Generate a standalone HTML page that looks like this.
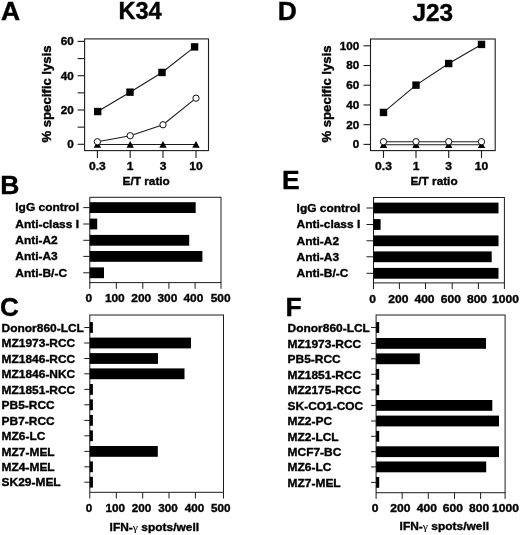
<!DOCTYPE html>
<html><head><meta charset="utf-8"><title>Figure</title>
<style>
html,body{margin:0;padding:0;background:#fff;}
body{width:520px;height:535px;overflow:hidden;font-family:"Liberation Sans",sans-serif;}
svg{display:block;filter:blur(0.35px);}
svg text{font-family:"Liberation Sans",sans-serif;font-weight:bold;fill:#000;stroke:#000;stroke-width:0.38px;}
</style></head>
<body>
<svg width="520" height="535" viewBox="0 0 520 535">
<rect x="0" y="0" width="520" height="535" fill="#fff"/>
<text transform="translate(1.0,20) scale(1.05,1)" font-size="25.2">A</text>
<text transform="translate(118.5,19) scale(0.995,1)" font-size="23.7">K34</text>
<text transform="translate(0.2,193.8) scale(1.05,1)" font-size="25.2">B</text>
<text transform="translate(0.0,316.0) scale(1.0,1)" font-size="26">C</text>
<text transform="translate(277.8,20) scale(1.05,1)" font-size="25.2">D</text>
<text transform="translate(412.4,21.2) scale(1.02,1)" font-size="23.9">J23</text>
<text transform="translate(282.0,189.3) scale(1.05,1)" font-size="25.2">E</text>
<text transform="translate(285.4,316.4) scale(1.05,1)" font-size="25.2">F</text>
<rect x="84.6" y="38.9" width="123.9" height="111.69999999999999" fill="none" stroke="#1c1c1c" stroke-width="1.1"/>
<line x1="77.6" y1="144.3" x2="84.6" y2="144.3" stroke="#1c1c1c" stroke-width="1.1"/>
<text transform="translate(73.8,148.20000000000002) scale(1,0.97)" font-size="11.7" text-anchor="end" >0</text>
<line x1="77.6" y1="127.15" x2="84.6" y2="127.15" stroke="#1c1c1c" stroke-width="1.1"/>
<line x1="77.6" y1="110.0" x2="84.6" y2="110.0" stroke="#1c1c1c" stroke-width="1.1"/>
<text transform="translate(73.8,113.9) scale(1,0.97)" font-size="11.7" text-anchor="end" >20</text>
<line x1="77.6" y1="92.85000000000001" x2="84.6" y2="92.85000000000001" stroke="#1c1c1c" stroke-width="1.1"/>
<line x1="77.6" y1="75.7" x2="84.6" y2="75.7" stroke="#1c1c1c" stroke-width="1.1"/>
<text transform="translate(73.8,79.60000000000001) scale(1,0.97)" font-size="11.7" text-anchor="end" >40</text>
<line x1="77.6" y1="58.55000000000001" x2="84.6" y2="58.55000000000001" stroke="#1c1c1c" stroke-width="1.1"/>
<line x1="77.6" y1="41.400000000000006" x2="84.6" y2="41.400000000000006" stroke="#1c1c1c" stroke-width="1.1"/>
<text transform="translate(73.8,45.300000000000004) scale(1,0.97)" font-size="11.7" text-anchor="end" >60</text>
<line x1="97.4" y1="150.6" x2="97.4" y2="157.9" stroke="#1c1c1c" stroke-width="1.1"/>
<text transform="translate(97.4,170.4) scale(1,0.92)" font-size="12.1" text-anchor="middle" >0.3</text>
<line x1="130.2" y1="150.6" x2="130.2" y2="157.9" stroke="#1c1c1c" stroke-width="1.1"/>
<text transform="translate(130.2,170.4) scale(1,0.92)" font-size="12.1" text-anchor="middle" >1</text>
<line x1="163" y1="150.6" x2="163" y2="157.9" stroke="#1c1c1c" stroke-width="1.1"/>
<text transform="translate(163,170.4) scale(1,0.92)" font-size="12.1" text-anchor="middle" >3</text>
<line x1="196" y1="150.6" x2="196" y2="157.9" stroke="#1c1c1c" stroke-width="1.1"/>
<text transform="translate(196,170.4) scale(1,0.92)" font-size="12.1" text-anchor="middle" >10</text>
<text transform="translate(146.2,184.9) scale(1,0.92)" font-size="11.8" text-anchor="middle" >E/T ratio</text>
<text transform="translate(50.6,94.0) rotate(-90)" font-size="13.4" text-anchor="middle" textLength="97" lengthAdjust="spacingAndGlyphs">% specific lysis</text>
<polyline points="97.4,144.47150000000002 130.2,144.47150000000002 163,144.47150000000002 196,144.47150000000002" fill="none" stroke="#1c1c1c" stroke-width="1.1"/>
<polygon points="93.7,147.6715 101.10000000000001,147.6715 97.4,140.97150000000002" fill="#000"/>
<polygon points="126.49999999999999,147.6715 133.89999999999998,147.6715 130.2,140.97150000000002" fill="#000"/>
<polygon points="159.3,147.6715 166.7,147.6715 163,140.97150000000002" fill="#000"/>
<polygon points="192.3,147.6715 199.7,147.6715 196,140.97150000000002" fill="#000"/>
<polyline points="97.4,141.72750000000002 130.2,135.72500000000002 163,124.74900000000001 196,98.16650000000001" fill="none" stroke="#1c1c1c" stroke-width="1.1"/>
<circle cx="97.4" cy="141.72750000000002" r="3.15" fill="#fff" stroke="#111" stroke-width="1.0"/>
<circle cx="130.2" cy="135.72500000000002" r="3.15" fill="#fff" stroke="#111" stroke-width="1.0"/>
<circle cx="163" cy="124.74900000000001" r="3.15" fill="#fff" stroke="#111" stroke-width="1.0"/>
<circle cx="196" cy="98.16650000000001" r="3.15" fill="#fff" stroke="#111" stroke-width="1.0"/>
<polyline points="97.7,111.54350000000001 130,92.16400000000002 162,72.4415 194.6,46.888000000000005" fill="none" stroke="#1c1c1c" stroke-width="1.1"/>
<rect x="94.0" y="107.8435" width="7.4" height="7.4" fill="#000"/>
<rect x="126.3" y="88.46400000000001" width="7.4" height="7.4" fill="#000"/>
<rect x="158.3" y="68.7415" width="7.4" height="7.4" fill="#000"/>
<rect x="190.9" y="43.188" width="7.4" height="7.4" fill="#000"/>
<rect x="370.5" y="39.0" width="124.69999999999999" height="111.6" fill="none" stroke="#1c1c1c" stroke-width="1.1"/>
<line x1="363.5" y1="144.4" x2="370.5" y2="144.4" stroke="#1c1c1c" stroke-width="1.1"/>
<text transform="translate(359.2,148.3) scale(1,0.97)" font-size="11.7" text-anchor="end" >0</text>
<line x1="363.5" y1="124.68" x2="370.5" y2="124.68" stroke="#1c1c1c" stroke-width="1.1"/>
<text transform="translate(359.2,128.58) scale(1,0.97)" font-size="11.7" text-anchor="end" >20</text>
<line x1="363.5" y1="104.96000000000001" x2="370.5" y2="104.96000000000001" stroke="#1c1c1c" stroke-width="1.1"/>
<text transform="translate(359.2,108.86000000000001) scale(1,0.97)" font-size="11.7" text-anchor="end" >40</text>
<line x1="363.5" y1="85.24000000000001" x2="370.5" y2="85.24000000000001" stroke="#1c1c1c" stroke-width="1.1"/>
<text transform="translate(359.2,89.14000000000001) scale(1,0.97)" font-size="11.7" text-anchor="end" >60</text>
<line x1="363.5" y1="65.52000000000001" x2="370.5" y2="65.52000000000001" stroke="#1c1c1c" stroke-width="1.1"/>
<text transform="translate(359.2,69.42000000000002) scale(1,0.97)" font-size="11.7" text-anchor="end" >80</text>
<line x1="363.5" y1="45.80000000000001" x2="370.5" y2="45.80000000000001" stroke="#1c1c1c" stroke-width="1.1"/>
<text transform="translate(359.2,49.70000000000001) scale(1,0.97)" font-size="11.7" text-anchor="end" >100</text>
<line x1="383.5" y1="150.6" x2="383.5" y2="157.9" stroke="#1c1c1c" stroke-width="1.1"/>
<text transform="translate(383.5,170.4) scale(1,0.92)" font-size="12.1" text-anchor="middle" >0.3</text>
<line x1="416" y1="150.6" x2="416" y2="157.9" stroke="#1c1c1c" stroke-width="1.1"/>
<text transform="translate(416,170.4) scale(1,0.92)" font-size="12.1" text-anchor="middle" >1</text>
<line x1="448.7" y1="150.6" x2="448.7" y2="157.9" stroke="#1c1c1c" stroke-width="1.1"/>
<text transform="translate(448.7,170.4) scale(1,0.92)" font-size="12.1" text-anchor="middle" >3</text>
<line x1="481.5" y1="150.6" x2="481.5" y2="157.9" stroke="#1c1c1c" stroke-width="1.1"/>
<text transform="translate(481.5,170.4) scale(1,0.92)" font-size="12.1" text-anchor="middle" >10</text>
<text transform="translate(434,184.9) scale(1,0.92)" font-size="11.8" text-anchor="middle" >E/T ratio</text>
<text transform="translate(331.2,94.0) rotate(-90)" font-size="13.4" text-anchor="middle" textLength="97" lengthAdjust="spacingAndGlyphs">% specific lysis</text>
<polyline points="383.5,144.7944 416,144.7944 448.7,144.7944 481.5,144.7944" fill="none" stroke="#1c1c1c" stroke-width="1.1"/>
<polygon points="379.8,147.99439999999998 387.2,147.99439999999998 383.5,141.2944" fill="#000"/>
<polygon points="412.3,147.99439999999998 419.7,147.99439999999998 416,141.2944" fill="#000"/>
<polygon points="445.0,147.99439999999998 452.4,147.99439999999998 448.7,141.2944" fill="#000"/>
<polygon points="477.8,147.99439999999998 485.2,147.99439999999998 481.5,141.2944" fill="#000"/>
<polyline points="383.5,141.6885 416,141.6885 448.7,141.6885 481.5,141.6885" fill="none" stroke="#1c1c1c" stroke-width="1.1"/>
<circle cx="383.5" cy="141.6885" r="3.15" fill="#fff" stroke="#111" stroke-width="1.0"/>
<circle cx="416" cy="141.6885" r="3.15" fill="#fff" stroke="#111" stroke-width="1.0"/>
<circle cx="448.7" cy="141.6885" r="3.15" fill="#fff" stroke="#111" stroke-width="1.0"/>
<circle cx="481.5" cy="141.6885" r="3.15" fill="#fff" stroke="#111" stroke-width="1.0"/>
<polyline points="383.5,112.45360000000001 416,85.1414 448.7,63.548 481.5,44.4196" fill="none" stroke="#1c1c1c" stroke-width="1.1"/>
<rect x="379.8" y="108.7536" width="7.4" height="7.4" fill="#000"/>
<rect x="412.3" y="81.4414" width="7.4" height="7.4" fill="#000"/>
<rect x="445.0" y="59.848" width="7.4" height="7.4" fill="#000"/>
<rect x="477.8" y="40.7196" width="7.4" height="7.4" fill="#000"/>
<rect x="89.8" y="197.3" width="131.2" height="85.30000000000001" fill="none" stroke="#1c1c1c" stroke-width="1.0"/>
<line x1="83.3" y1="207.6" x2="89.8" y2="207.6" stroke="#1c1c1c" stroke-width="1.0"/>
<rect x="89.8" y="202.2" width="105.89999999999999" height="10.8" fill="#000"/>
<text transform="translate(15.3,211.29999999999998) scale(1,0.92)" font-size="11.95" text-anchor="start" >IgG control</text>
<line x1="83.3" y1="224" x2="89.8" y2="224" stroke="#1c1c1c" stroke-width="1.0"/>
<rect x="89.8" y="218.6" width="7.400000000000006" height="10.8" fill="#000"/>
<text transform="translate(15.3,227.7) scale(1,0.92)" font-size="11.95" text-anchor="start" >Anti-class I</text>
<line x1="83.3" y1="240.3" x2="89.8" y2="240.3" stroke="#1c1c1c" stroke-width="1.0"/>
<rect x="89.8" y="234.9" width="99.39999999999999" height="10.8" fill="#000"/>
<text transform="translate(15.3,244.0) scale(1,0.92)" font-size="11.95" text-anchor="start" >Anti-A2</text>
<line x1="83.3" y1="256.4" x2="89.8" y2="256.4" stroke="#1c1c1c" stroke-width="1.0"/>
<rect x="89.8" y="250.99999999999997" width="112.60000000000001" height="10.8" fill="#000"/>
<text transform="translate(15.3,260.09999999999997) scale(1,0.92)" font-size="11.95" text-anchor="start" >Anti-A3</text>
<line x1="83.3" y1="272.8" x2="89.8" y2="272.8" stroke="#1c1c1c" stroke-width="1.0"/>
<rect x="89.8" y="267.40000000000003" width="14.200000000000003" height="10.8" fill="#000"/>
<text transform="translate(15.3,276.5) scale(1,0.92)" font-size="11.95" text-anchor="start" >Anti-B/-C</text>
<line x1="89.8" y1="282.6" x2="89.8" y2="288.8" stroke="#1c1c1c" stroke-width="1.0"/>
<line x1="116.3" y1="282.6" x2="116.3" y2="288.8" stroke="#1c1c1c" stroke-width="1.0"/>
<line x1="142.8" y1="282.6" x2="142.8" y2="288.8" stroke="#1c1c1c" stroke-width="1.0"/>
<line x1="168.9" y1="282.6" x2="168.9" y2="288.8" stroke="#1c1c1c" stroke-width="1.0"/>
<line x1="195.1" y1="282.6" x2="195.1" y2="288.8" stroke="#1c1c1c" stroke-width="1.0"/>
<line x1="221.0" y1="282.6" x2="221.0" y2="288.8" stroke="#1c1c1c" stroke-width="1.0"/>
<text transform="translate(88.9,302.3) scale(1,0.92)" font-size="11.9" text-anchor="middle" >0</text>
<text transform="translate(114.8,302.3) scale(1,0.92)" font-size="11.9" text-anchor="middle" >100</text>
<text transform="translate(141.2,302.3) scale(1,0.92)" font-size="11.9" text-anchor="middle" >200</text>
<text transform="translate(167.4,302.3) scale(1,0.92)" font-size="11.9" text-anchor="middle" >300</text>
<text transform="translate(193.4,302.3) scale(1,0.92)" font-size="11.9" text-anchor="middle" >400</text>
<text transform="translate(220.6,302.3) scale(1,0.92)" font-size="11.9" text-anchor="middle" >500</text>
<rect x="89.8" y="315" width="133.7" height="177.3" fill="none" stroke="#1c1c1c" stroke-width="1.0"/>
<line x1="84.3" y1="327.5" x2="89.8" y2="327.5" stroke="#1c1c1c" stroke-width="1.0"/>
<rect x="89.8" y="322.1" width="3.1000000000000085" height="10.8" fill="#000"/>
<text transform="translate(1.6,331.6) scale(1,0.92)" font-size="11.95" text-anchor="start" >Donor860-LCL</text>
<line x1="84.3" y1="343" x2="89.8" y2="343" stroke="#1c1c1c" stroke-width="1.0"/>
<rect x="89.8" y="337.6" width="101.2" height="10.8" fill="#000"/>
<text transform="translate(1.6,347.1) scale(1,0.92)" font-size="11.95" text-anchor="start" >MZ1973-RCC</text>
<line x1="84.3" y1="358.5" x2="89.8" y2="358.5" stroke="#1c1c1c" stroke-width="1.0"/>
<rect x="89.8" y="353.1" width="68.2" height="10.8" fill="#000"/>
<text transform="translate(1.6,362.6) scale(1,0.92)" font-size="11.95" text-anchor="start" >MZ1846-RCC</text>
<line x1="84.3" y1="373.8" x2="89.8" y2="373.8" stroke="#1c1c1c" stroke-width="1.0"/>
<rect x="89.8" y="368.40000000000003" width="94.7" height="10.8" fill="#000"/>
<text transform="translate(1.6,377.90000000000003) scale(1,0.92)" font-size="11.95" text-anchor="start" >MZ1846-NKC</text>
<line x1="84.3" y1="389.4" x2="89.8" y2="389.4" stroke="#1c1c1c" stroke-width="1.0"/>
<rect x="89.8" y="384.0" width="3.1000000000000085" height="10.8" fill="#000"/>
<text transform="translate(1.6,393.5) scale(1,0.92)" font-size="11.95" text-anchor="start" >MZ1851-RCC</text>
<line x1="84.3" y1="404.8" x2="89.8" y2="404.8" stroke="#1c1c1c" stroke-width="1.0"/>
<rect x="89.8" y="399.40000000000003" width="3.1000000000000085" height="10.8" fill="#000"/>
<text transform="translate(1.6,408.90000000000003) scale(1,0.92)" font-size="11.95" text-anchor="start" >PB5-RCC</text>
<line x1="84.3" y1="420.4" x2="89.8" y2="420.4" stroke="#1c1c1c" stroke-width="1.0"/>
<rect x="89.8" y="415.0" width="3.1000000000000085" height="10.8" fill="#000"/>
<text transform="translate(1.6,424.5) scale(1,0.92)" font-size="11.95" text-anchor="start" >PB7-RCC</text>
<line x1="84.3" y1="435.8" x2="89.8" y2="435.8" stroke="#1c1c1c" stroke-width="1.0"/>
<rect x="89.8" y="430.40000000000003" width="3.1000000000000085" height="10.8" fill="#000"/>
<text transform="translate(1.6,439.90000000000003) scale(1,0.92)" font-size="11.95" text-anchor="start" >MZ6-LC</text>
<line x1="84.3" y1="451.4" x2="89.8" y2="451.4" stroke="#1c1c1c" stroke-width="1.0"/>
<rect x="89.8" y="446.0" width="68.00000000000001" height="10.8" fill="#000"/>
<text transform="translate(1.6,455.5) scale(1,0.92)" font-size="11.95" text-anchor="start" >MZ7-MEL</text>
<line x1="84.3" y1="466.8" x2="89.8" y2="466.8" stroke="#1c1c1c" stroke-width="1.0"/>
<rect x="89.8" y="461.40000000000003" width="3.1000000000000085" height="10.8" fill="#000"/>
<text transform="translate(1.6,470.90000000000003) scale(1,0.92)" font-size="11.95" text-anchor="start" >MZ4-MEL</text>
<line x1="84.3" y1="482.2" x2="89.8" y2="482.2" stroke="#1c1c1c" stroke-width="1.0"/>
<rect x="89.8" y="476.8" width="3.1000000000000085" height="10.8" fill="#000"/>
<text transform="translate(1.6,486.3) scale(1,0.92)" font-size="11.95" text-anchor="start" >SK29-MEL</text>
<line x1="89.8" y1="492.3" x2="89.8" y2="498.5" stroke="#1c1c1c" stroke-width="1.0"/>
<line x1="116.3" y1="492.3" x2="116.3" y2="498.5" stroke="#1c1c1c" stroke-width="1.0"/>
<line x1="142.7" y1="492.3" x2="142.7" y2="498.5" stroke="#1c1c1c" stroke-width="1.0"/>
<line x1="169" y1="492.3" x2="169" y2="498.5" stroke="#1c1c1c" stroke-width="1.0"/>
<line x1="195.4" y1="492.3" x2="195.4" y2="498.5" stroke="#1c1c1c" stroke-width="1.0"/>
<line x1="223.5" y1="492.3" x2="223.5" y2="498.5" stroke="#1c1c1c" stroke-width="1.0"/>
<text transform="translate(89.1,511.5) scale(1,0.92)" font-size="11.7" text-anchor="middle" >0</text>
<text transform="translate(115.2,511.5) scale(1,0.92)" font-size="11.7" text-anchor="middle" >100</text>
<text transform="translate(141.4,511.5) scale(1,0.92)" font-size="11.7" text-anchor="middle" >200</text>
<text transform="translate(168.0,511.5) scale(1,0.92)" font-size="11.7" text-anchor="middle" >300</text>
<text transform="translate(194.6,511.5) scale(1,0.92)" font-size="11.7" text-anchor="middle" >400</text>
<text transform="translate(220.7,511.5) scale(1,0.92)" font-size="11.7" text-anchor="middle" >500</text>
<text transform="translate(154.3,530.9) scale(1,0.89)" font-size="11.95" text-anchor="middle">IFN-<tspan font-weight="normal" font-family="Liberation Serif, serif" font-style="normal" font-size="11.8" stroke-width="0.1">γ</tspan> spots/well</text>
<rect x="373.5" y="197.5" width="130.89999999999998" height="85.39999999999998" fill="none" stroke="#1c1c1c" stroke-width="1.0"/>
<line x1="366.5" y1="208" x2="373.5" y2="208" stroke="#1c1c1c" stroke-width="1.0"/>
<rect x="373.5" y="202.6" width="125.0" height="10.8" fill="#000"/>
<text transform="translate(296.6,211.7) scale(1,0.92)" font-size="11.95" text-anchor="start" >IgG control</text>
<line x1="366.5" y1="224.5" x2="373.5" y2="224.5" stroke="#1c1c1c" stroke-width="1.0"/>
<rect x="373.5" y="219.1" width="7.100000000000023" height="10.8" fill="#000"/>
<text transform="translate(296.6,228.2) scale(1,0.92)" font-size="11.95" text-anchor="start" >Anti-class I</text>
<line x1="366.5" y1="240.8" x2="373.5" y2="240.8" stroke="#1c1c1c" stroke-width="1.0"/>
<rect x="373.5" y="235.4" width="125.0" height="10.8" fill="#000"/>
<text transform="translate(296.6,244.5) scale(1,0.92)" font-size="11.95" text-anchor="start" >Anti-A2</text>
<line x1="366.5" y1="256.8" x2="373.5" y2="256.8" stroke="#1c1c1c" stroke-width="1.0"/>
<rect x="373.5" y="251.4" width="118.19999999999999" height="10.8" fill="#000"/>
<text transform="translate(296.6,260.5) scale(1,0.92)" font-size="11.95" text-anchor="start" >Anti-A3</text>
<line x1="366.5" y1="273.3" x2="373.5" y2="273.3" stroke="#1c1c1c" stroke-width="1.0"/>
<rect x="373.5" y="267.90000000000003" width="125.0" height="10.8" fill="#000"/>
<text transform="translate(296.6,277.0) scale(1,0.92)" font-size="11.95" text-anchor="start" >Anti-B/-C</text>
<line x1="373.5" y1="282.9" x2="373.5" y2="289.09999999999997" stroke="#1c1c1c" stroke-width="1.0"/>
<line x1="399.4" y1="282.9" x2="399.4" y2="289.09999999999997" stroke="#1c1c1c" stroke-width="1.0"/>
<line x1="425.5" y1="282.9" x2="425.5" y2="289.09999999999997" stroke="#1c1c1c" stroke-width="1.0"/>
<line x1="452.2" y1="282.9" x2="452.2" y2="289.09999999999997" stroke="#1c1c1c" stroke-width="1.0"/>
<line x1="478.4" y1="282.9" x2="478.4" y2="289.09999999999997" stroke="#1c1c1c" stroke-width="1.0"/>
<line x1="504.4" y1="282.9" x2="504.4" y2="289.09999999999997" stroke="#1c1c1c" stroke-width="1.0"/>
<text transform="translate(372.6,302.5) scale(1,0.92)" font-size="12.1" text-anchor="middle" >0</text>
<text transform="translate(398.3,302.5) scale(1,0.92)" font-size="12.1" text-anchor="middle" >200</text>
<text transform="translate(424.5,302.5) scale(1,0.92)" font-size="12.1" text-anchor="middle" >400</text>
<text transform="translate(450.8,302.5) scale(1,0.92)" font-size="12.1" text-anchor="middle" >600</text>
<text transform="translate(477,302.5) scale(1,0.92)" font-size="12.1" text-anchor="middle" >800</text>
<text transform="translate(505.4,302.5) scale(1,0.92)" font-size="12.1" text-anchor="middle" >1000</text>
<rect x="376.1" y="315" width="129.0" height="177.7" fill="none" stroke="#1c1c1c" stroke-width="1.0"/>
<line x1="371.1" y1="327.5" x2="376.1" y2="327.5" stroke="#1c1c1c" stroke-width="1.0"/>
<rect x="376.1" y="322.1" width="3.099999999999966" height="10.8" fill="#000"/>
<text transform="translate(287.6,331.7) scale(1,0.92)" font-size="11.95" text-anchor="start" >Donor860-LCL</text>
<line x1="371.1" y1="343.4" x2="376.1" y2="343.4" stroke="#1c1c1c" stroke-width="1.0"/>
<rect x="376.1" y="338.0" width="109.89999999999998" height="10.8" fill="#000"/>
<text transform="translate(287.6,347.59999999999997) scale(1,0.92)" font-size="11.95" text-anchor="start" >MZ1973-RCC</text>
<line x1="371.1" y1="358.8" x2="376.1" y2="358.8" stroke="#1c1c1c" stroke-width="1.0"/>
<rect x="376.1" y="353.40000000000003" width="43.69999999999999" height="10.8" fill="#000"/>
<text transform="translate(287.6,363.0) scale(1,0.92)" font-size="11.95" text-anchor="start" >PB5-RCC</text>
<line x1="371.1" y1="374.3" x2="376.1" y2="374.3" stroke="#1c1c1c" stroke-width="1.0"/>
<rect x="376.1" y="368.90000000000003" width="3.099999999999966" height="10.8" fill="#000"/>
<text transform="translate(287.6,378.5) scale(1,0.92)" font-size="11.95" text-anchor="start" >MZ1851-RCC</text>
<line x1="371.1" y1="389.9" x2="376.1" y2="389.9" stroke="#1c1c1c" stroke-width="1.0"/>
<rect x="376.1" y="384.5" width="3.099999999999966" height="10.8" fill="#000"/>
<text transform="translate(287.6,394.09999999999997) scale(1,0.92)" font-size="11.95" text-anchor="start" >MZ2175-RCC</text>
<line x1="371.1" y1="405.4" x2="376.1" y2="405.4" stroke="#1c1c1c" stroke-width="1.0"/>
<rect x="376.1" y="400.0" width="116.19999999999999" height="10.8" fill="#000"/>
<text transform="translate(287.6,409.59999999999997) scale(1,0.92)" font-size="11.95" text-anchor="start" >SK-CO1-COC</text>
<line x1="371.1" y1="421" x2="376.1" y2="421" stroke="#1c1c1c" stroke-width="1.0"/>
<rect x="376.1" y="415.6" width="122.89999999999998" height="10.8" fill="#000"/>
<text transform="translate(287.6,425.2) scale(1,0.92)" font-size="11.95" text-anchor="start" >MZ2-PC</text>
<line x1="371.1" y1="436.3" x2="376.1" y2="436.3" stroke="#1c1c1c" stroke-width="1.0"/>
<rect x="376.1" y="430.90000000000003" width="3.099999999999966" height="10.8" fill="#000"/>
<text transform="translate(287.6,440.5) scale(1,0.92)" font-size="11.95" text-anchor="start" >MZ2-LCL</text>
<line x1="371.1" y1="451.7" x2="376.1" y2="451.7" stroke="#1c1c1c" stroke-width="1.0"/>
<rect x="376.1" y="446.3" width="122.89999999999998" height="10.8" fill="#000"/>
<text transform="translate(287.6,455.9) scale(1,0.92)" font-size="11.95" text-anchor="start" >MCF7-BC</text>
<line x1="371.1" y1="466.9" x2="376.1" y2="466.9" stroke="#1c1c1c" stroke-width="1.0"/>
<rect x="376.1" y="461.5" width="110.09999999999997" height="10.8" fill="#000"/>
<text transform="translate(287.6,471.09999999999997) scale(1,0.92)" font-size="11.95" text-anchor="start" >MZ6-LC</text>
<line x1="371.1" y1="482.4" x2="376.1" y2="482.4" stroke="#1c1c1c" stroke-width="1.0"/>
<rect x="376.1" y="477.0" width="3.099999999999966" height="10.8" fill="#000"/>
<text transform="translate(287.6,486.59999999999997) scale(1,0.92)" font-size="11.95" text-anchor="start" >MZ7-MEL</text>
<line x1="376.1" y1="492.7" x2="376.1" y2="498.9" stroke="#1c1c1c" stroke-width="1.0"/>
<line x1="402.2" y1="492.7" x2="402.2" y2="498.9" stroke="#1c1c1c" stroke-width="1.0"/>
<line x1="428.3" y1="492.7" x2="428.3" y2="498.9" stroke="#1c1c1c" stroke-width="1.0"/>
<line x1="454.5" y1="492.7" x2="454.5" y2="498.9" stroke="#1c1c1c" stroke-width="1.0"/>
<line x1="480.6" y1="492.7" x2="480.6" y2="498.9" stroke="#1c1c1c" stroke-width="1.0"/>
<line x1="505.1" y1="492.7" x2="505.1" y2="498.9" stroke="#1c1c1c" stroke-width="1.0"/>
<text transform="translate(375.2,512.3) scale(1,0.92)" font-size="12.1" text-anchor="middle" >0</text>
<text transform="translate(400.4,512.3) scale(1,0.92)" font-size="12.1" text-anchor="middle" >200</text>
<text transform="translate(426.8,512.3) scale(1,0.92)" font-size="12.1" text-anchor="middle" >400</text>
<text transform="translate(452.9,512.3) scale(1,0.92)" font-size="12.1" text-anchor="middle" >600</text>
<text transform="translate(479.2,512.3) scale(1,0.92)" font-size="12.1" text-anchor="middle" >800</text>
<text transform="translate(505.4,512.3) scale(1,0.92)" font-size="12.1" text-anchor="middle" >1000</text>
<text transform="translate(444.3,530.4) scale(1,0.89)" font-size="11.95" text-anchor="middle">IFN-<tspan font-weight="normal" font-family="Liberation Serif, serif" font-style="normal" font-size="11.8" stroke-width="0.1">γ</tspan> spots/well</text>
</svg>
</body></html>
